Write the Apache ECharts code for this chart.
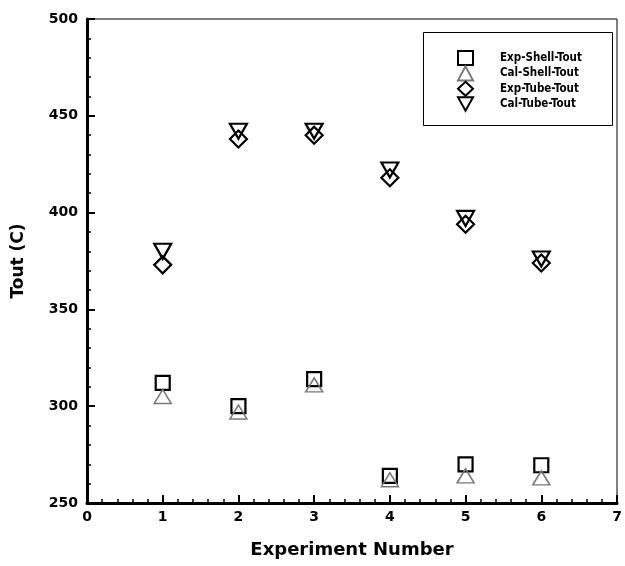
<!DOCTYPE html>
<html>
<head>
<meta charset="utf-8">
<script src="https://cdn.jsdelivr.net/npm/echarts@6/dist/echarts.min.js"></script>
<style>html,body{margin:0;padding:0;background:#fff}#c{width:625px;height:566px}</style>
</head>
<body>
<div id="c"></div>
<script>
var experiments = [1, 2, 3, 4, 5, 6];
var expShellTout = [312, 300, 314, 264, 270, 269.5];
var calShellTout = [305, 297, 311, 262, 264, 263];
var expTubeTout = [373, 438, 440, 418, 394, 374];
var calTubeTout = [380, 442, 442, 422, 397, 376];
var seriesNames = ['Exp-Shell-Tout', 'Cal-Shell-Tout', 'Exp-Tube-Tout', 'Cal-Tube-Tout'];

function pairs(vals) { return experiments.map(function (x, i) { return [x, vals[i]]; }); }

var downTri = 'path://M0,0L20,0L10,18Z';
var bold = "'DejaVu Sans', sans-serif";
var narrow = "'Liberation Sans Narrow', 'DejaVu Sans Condensed', 'Liberation Sans', sans-serif";

var chart = echarts.init(document.getElementById('c'), null, {renderer: 'canvas'});
chart.setOption({
  animation: false,
  backgroundColor: '#fff',
  grid: {left: 87, right: 8, top: 19, bottom: 63, show: true, borderColor: '#000', borderWidth: 1},
  xAxis: {
    type: 'value', min: 0, max: 7, interval: 1,
    name: 'Experiment Number', nameLocation: 'middle', nameGap: 38,
    nameTextStyle: {fontFamily: bold, fontWeight: 'bold', fontSize: 18, color: '#000'},
    axisLine: {show: true, lineStyle: {color: '#000', width: 3}},
    axisTick: {show: true, inside: true, length: 8, lineStyle: {color: '#000', width: 2}},
    minorTick: {show: true, splitNumber: 5, length: 4, lineStyle: {color: '#000', width: 1.5}},
    axisLabel: {fontFamily: bold, fontWeight: 'bold', fontSize: 14, color: '#000', margin: 7},
    splitLine: {show: false}
  },
  yAxis: {
    type: 'value', min: 250, max: 500, interval: 50,
    name: 'Tout (C)', nameLocation: 'middle', nameGap: 60, nameRotate: 90,
    nameTextStyle: {fontFamily: bold, fontWeight: 'bold', fontSize: 17, color: '#000'},
    axisLine: {show: true, lineStyle: {color: '#000', width: 3}},
    axisTick: {show: true, inside: true, length: 8, lineStyle: {color: '#000', width: 2}},
    minorTick: {show: true, splitNumber: 5, length: 4, lineStyle: {color: '#000', width: 1.5}},
    axisLabel: {fontFamily: bold, fontWeight: 'bold', fontSize: 14, color: '#000', margin: 9},
    splitLine: {show: false}
  },
  legend: {
    orient: 'vertical', left: 457, top: 50, padding: 0, itemWidth: 15, itemHeight: 14, itemGap: -0.6,
    data: seriesNames,
    textStyle: {fontFamily: narrow, fontWeight: 'bold', fontSize: 11.5, color: '#000', padding: [0, 0, 0, 22]},
    inactiveColor: '#000'
  },
  graphic: [{type: 'rect', left: 421, top: 30, shape: {width: 189, height: 93},
    style: {fill: 'none', stroke: '#000', lineWidth: 1}, z: 100}],
  series: [
    {name: seriesNames[0], type: 'scatter', data: pairs(expShellTout), symbol: 'rect', symbolSize: 14,
      itemStyle: {color: '#fff', borderColor: '#000', borderWidth: 2.2, opacity: 1}},
    {name: seriesNames[1], type: 'scatter', data: pairs(calShellTout), symbol: 'triangle', symbolSize: [17, 14],
      itemStyle: {color: 'rgba(255,255,255,0)', borderColor: '#777', borderWidth: 1.5, opacity: 1}},
    {name: seriesNames[2], type: 'scatter', data: pairs(expTubeTout), symbol: 'diamond', symbolSize: 17,
      itemStyle: {color: 'rgba(255,255,255,0)', borderColor: '#000', borderWidth: 2.2, opacity: 1}},
    {name: seriesNames[3], type: 'scatter', data: pairs(calTubeTout), symbol: downTri, symbolSize: [17, 15],
      itemStyle: {color: 'rgba(255,255,255,0)', borderColor: '#000', borderWidth: 2.2, opacity: 1}}
  ]
});
</script>
</body>
</html>
